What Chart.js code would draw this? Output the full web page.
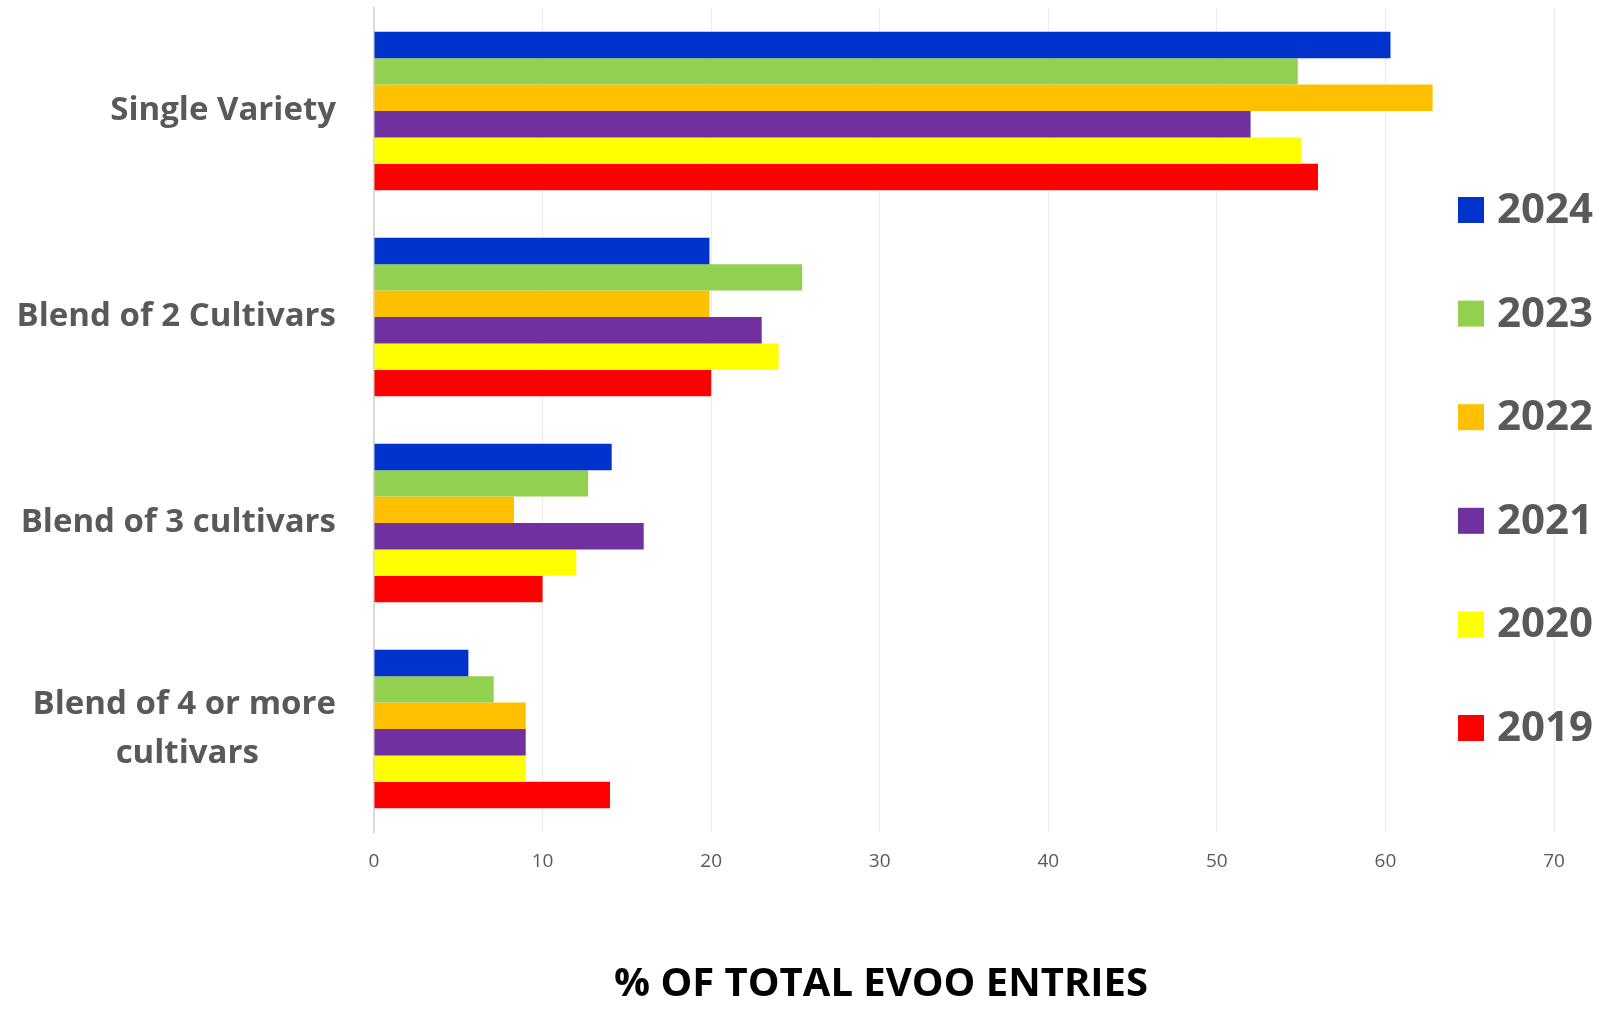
<!DOCTYPE html>
<html>
<head>
<meta charset="utf-8">
<script src="https://cdn.jsdelivr.net/npm/chart.js@4"></script>
<style>
  html, body { margin: 0; padding: 0; background: #fff; }
  #wrap { width: 1601px; height: 1009px; }
</style>
</head>
<body>
<div id="wrap"><canvas id="oliveChart"></canvas></div>
<script>
// categories (top to bottom)
const categories = ['Single Variety', 'Blend of 2 Cultivars', 'Blend of 3 cultivars', ['Blend of 4 or more', 'cultivars']];
const years = ['2024', '2023', '2022', '2021', '2020', '2019'];

// % of total EVOO entries per year
const v2024 = [60.3, 19.9, 14.1, 5.6];
const v2023 = [54.8, 25.4, 12.7, 7.1];
const v2022 = [62.8, 19.9, 8.3, 9.0];
const v2021 = [52.0, 23.0, 16.0, 9.0];
const v2020 = [55.0, 24.0, 12.0, 9.0];
const v2019 = [56.0, 20.0, 10.0, 14.0];

const seriesValues = [v2024, v2023, v2022, v2021, v2020, v2019];
const colors = ['#0033CC', '#92D050', '#FFC000', '#7030A0', '#FFFF00', '#FF0000'];

const textGrey = '#595959';
const fontFam = '"Open Sans", Lato, sans-serif';
const catFont = 'bold 33px ' + fontFam;

// multi-line category labels are centred line by line in the original,
// pad the shorter lines so right-aligned ticks end up centred
const measureCtx = document.createElement('canvas').getContext('2d');
function centreLines(lines) {
  measureCtx.font = catFont;
  const widths = lines.map(l => measureCtx.measureText(l).width);
  const maxW = Math.max(...widths);
  const sp = measureCtx.measureText('\u00A0').width;
  return lines.map((l, i) => l + '\u00A0'.repeat(Math.round((maxW - widths[i]) / 2 / sp)));
}

// legend drawn over the right edge of the plot, like the original
const sideLegend = {
  id: 'sideLegend',
  afterDraw(chart) {
    const ctx = chart.ctx;
    ctx.save();
    ctx.font = 'bold 42px ' + fontFam;
    ctx.textBaseline = 'middle';
    ctx.textAlign = 'left';
    chart.data.datasets.forEach((ds, i) => {
      const cy = 210 + i * 103.6;
      ctx.fillStyle = ds.backgroundColor;
      ctx.fillRect(1458, cy - 13, 26, 26);
      ctx.fillStyle = textGrey;
      ctx.fillText(ds.label, 1497, cy + 1);
    });
    ctx.restore();
  }
};

const bottomTitle = {
  id: 'bottomTitle',
  afterDraw(chart) {
    const ctx = chart.ctx;
    ctx.save();
    ctx.font = 'bold 40px ' + fontFam;
    ctx.fillStyle = '#000';
    ctx.textAlign = 'center';
    ctx.textBaseline = 'middle';
    ctx.fillText('% OF TOTAL EVOO ENTRIES', 881, 985);
    ctx.restore();
  }
};

const ctxOlive = document.getElementById('oliveChart');
new Chart(ctxOlive, {
  type: 'bar',
  data: {
    labels: categories,
    datasets: years.map((y, i) => ({
      label: y,
      data: seriesValues[i],
      backgroundColor: colors[i],
      borderWidth: 0,
      categoryPercentage: 0.77,
      barPercentage: 1.0,
    })),
  },
  options: {
    indexAxis: 'y',
    responsive: true,
    maintainAspectRatio: false,
    animation: false,
    layout: {
      padding: { left: 0, right: 47, top: 8, bottom: 0 },
    },
    plugins: {
      legend: { display: false },
      tooltip: { enabled: false },
    },
    scales: {
      x: {
        min: 0,
        max: 70,
        ticks: {
          stepSize: 10,
          padding: 18,
          color: textGrey,
          font: { family: fontFam, size: 19 },
        },
        grid: {
          color: '#ebebeb',
          lineWidth: 1,
          drawTicks: false,
        },
        border: { display: false },
        afterFit: (scale) => { scale.height = 177; },
      },
      y: {
        ticks: {
          padding: 38,
          color: textGrey,
          font: { family: fontFam, size: 33, weight: 'bold', lineHeight: 1.48 },
          callback: function (value) {
            const lbl = this.getLabelForValue(value);
            return Array.isArray(lbl) ? centreLines(lbl) : lbl;
          },
        },
        grid: { display: false, drawTicks: false },
        border: { display: true, color: '#d9d9d9', width: 2 },
        afterFit: (scale) => {
          scale.width = 374;
          scale.paddingTop = 0;
          scale.paddingBottom = 0;
        },
      },
    },
  },
  plugins: [sideLegend, bottomTitle],
});
</script>
</body>
</html>
